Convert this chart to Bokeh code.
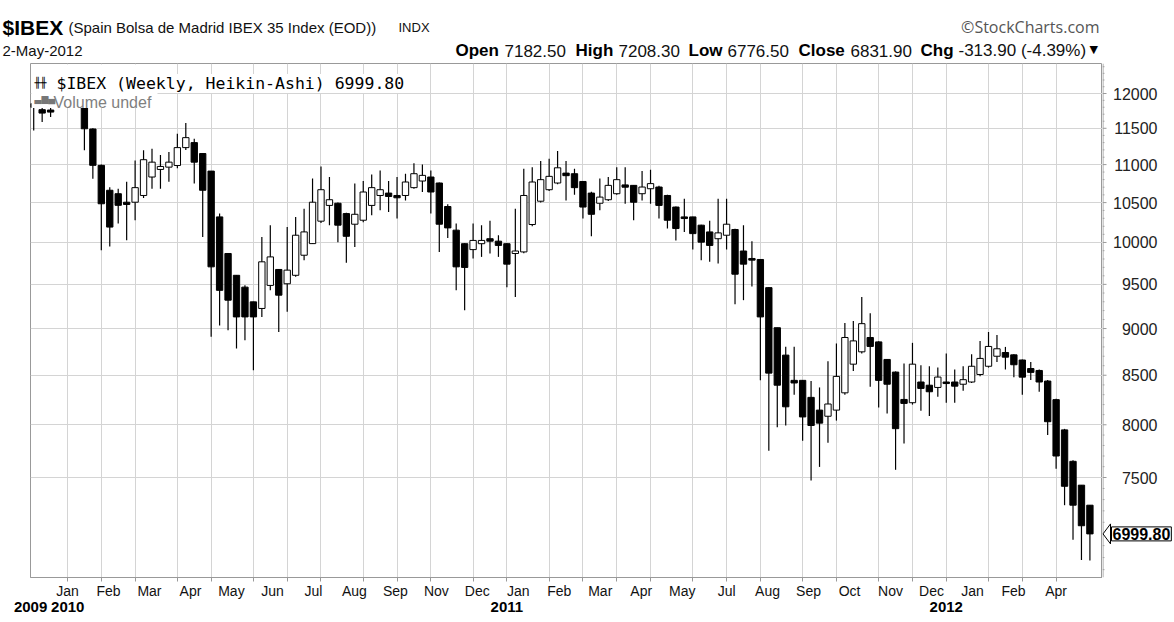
import numpy as np
import pandas as pd
from bokeh.plotting import figure
from bokeh.layouts import column, row
from bokeh.models import Range1d, FixedTicker, Label, BoxAnnotation, ColumnDataSource, LinearAxis
from bokeh.embed import file_html
from bokeh.resources import INLINE

# ---------------- data (weekly Heikin-Ashi candles) ----------------
weeks = pd.date_range("2009-12-07", periods=126, freq="W-MON")

ha_open = [
    11850, 11765, 11760, 11810, 11850, 11975,
    11930, 11490, 10990, 10660, 10615, 10505,
    10505, 10592, 10834, 10935, 10966, 10988,
    11231, 11300, 11150, 10913, 10318, 9866,
    9606, 9468, 9299, 9224, 9488, 9675,
    9507, 9606, 9845, 9986, 10264, 10464,
    10492, 10360, 10226, 10276, 10464, 10592,
    10623, 10592, 10592, 10694, 10781, 10834,
    10755, 10450, 10152, 9985, 9913, 9985,
    10046, 10016, 9985, 9866, 9885, 10222,
    10518, 10667, 10755, 10886, 10878, 10775,
    10623, 10492, 10537, 10615, 10730, 10724,
    10615, 10680, 10702, 10592, 10443, 10318,
    10318, 10214, 10130, 10046, 10089, 10160,
    9896, 9806, 9794, 9462, 9009, 8712,
    8447, 8447, 8273, 8145, 8084, 8145,
    8319, 8616, 8747, 8902, 8854, 8666,
    8533, 8252, 8219, 8430, 8397, 8374,
    8430, 8430, 8407, 8430, 8508, 8594,
    8700, 8740, 8715, 8660, 8570, 8550,
    8440, 8250, 7950, 7650, 7430, 7250,
]
ha_close = [
    11800, 11716, 11730, 11960, 12100, 11900,
    11493, 10990, 10485, 10190, 10465, 10476,
    10694, 11066, 11033, 10975, 11033, 11231,
    11369, 11033, 10660, 9706, 9431, 9318,
    9129, 9129, 9129, 9766, 9825, 9375,
    9667, 10089, 10130, 10505, 10667, 10537,
    10214, 10076, 10351, 10637, 10694, 10667,
    10579, 10562, 10768, 10878, 10856, 10637,
    10226, 10180, 9706, 9699, 10025, 10025,
    10016, 9964, 9738, 9896, 10592, 10768,
    10799, 10843, 10957, 10852, 10694, 10443,
    10351, 10571, 10724, 10799, 10700, 10505,
    10702, 10747, 10464, 10276, 10172, 10297,
    10109, 10004, 9964, 10118, 10226, 9619,
    9738, 9786, 9129, 8522, 8397, 8178,
    8420, 8077, 7993, 8016, 8206, 8488,
    8902, 8865, 9054, 8805, 8447, 8407,
    7962, 8212, 8616, 8364, 8330, 8481,
    8414, 8387, 8454, 8594, 8677, 8805,
    8780, 8690, 8610, 8480, 8530, 8430,
    8030, 7700, 7420, 7250, 7070, 6999.80,
]
ha_high = [
    11950, 11850, 11800, 12050, 12230, 12130,
    11950, 11500, 11000, 10700, 10680, 10770,
    11057, 11195, 11217, 11130, 11170, 11424,
    11573, 11355, 11150, 10913, 10360, 9870,
    9610, 9490, 9300, 10066, 10214, 9680,
    10192, 10318, 10422, 10813, 10975, 10834,
    10500, 10370, 10747, 10781, 10869, 10922,
    10781, 10834, 10878, 11019, 11001, 10922,
    10760, 10480, 10235, 9990, 10235, 10214,
    10268, 10089, 9990, 10422, 10945, 10966,
    11047, 11080, 11184, 11047, 10945, 10780,
    10640, 10813, 10834, 10966, 10966, 10730,
    10913, 10931, 10720, 10600, 10450, 10550,
    10320, 10220, 10268, 10550, 10550, 10170,
    10214, 10016, 9800, 9470, 9010, 8801,
    8801, 8450, 8440, 8374, 8648, 8837,
    9060, 9083, 9355, 9169, 8860, 8670,
    8540, 8623, 8844, 8605, 8594, 8580,
    8730, 8559, 8594, 8722, 8865, 8962,
    8930, 8800, 8720, 8665, 8640, 8560,
    8450, 8260, 7960, 7660, 7430, 7250,
]
ha_low = [
    11470, 11590, 11660, 11800, 11820, 11800,
    11195, 10810, 9905, 9950, 10235, 10026,
    10276, 10560, 10680, 10680, 10770, 10950,
    11200, 10747, 10067, 8910, 9035, 8980,
    8784, 8873, 8551, 9129, 9431, 8962,
    9186, 9590, 9786, 9980, 10240, 10214,
    10004, 9754, 9944, 10250, 10339, 10401,
    10380, 10297, 10528, 10680, 10637, 10360,
    9885, 10054, 9431, 9205, 9806, 9825,
    9866, 9825, 9468, 9355, 9870, 10200,
    10500, 10650, 10740, 10528, 10600, 10297,
    10076, 10401, 10520, 10600, 10485, 10276,
    10528, 10485, 10297, 10172, 10025, 10130,
    9913, 9786, 9766, 9747, 9913, 9273,
    9318, 9476, 8447, 7749, 7977, 7993,
    8300, 7844, 7473, 7598, 7825, 8041,
    8300, 8544, 8730, 8380, 8171, 8111,
    7571, 7819, 8200, 8138, 8087, 8279,
    8219, 8219, 8340, 8420, 8490, 8580,
    8640, 8560, 8480, 8300, 8450, 8330,
    7900, 7580, 7250, 6950, 6780, 6776.50,
]

y_tick_values = [7500, 8000, 8500, 9000, 9500, 10000, 10500, 11000, 11500, 12000]
y_tick_labels = ["7500", "8000", "8500", "9000", "9500", "10000", "10500", "11000", "11500", "12000"]

month_label_keys = ["2010-01", "2010-02", "2010-03", "2010-04", "2010-05", "2010-06", "2010-07",
                    "2010-08", "2010-09", "2010-11", "2010-12", "2011-01", "2011-02", "2011-03",
                    "2011-04", "2011-05", "2011-07", "2011-08", "2011-09", "2011-10", "2011-11",
                    "2011-12", "2012-01", "2012-02", "2012-04"]
month_labels = ["Jan", "Feb", "Mar", "Apr", "May", "Jun", "Jul", "Aug", "Sep", "Nov", "Dec",
                "Jan", "Feb", "Mar", "Apr", "May", "Jul", "Aug", "Sep", "Oct", "Nov", "Dec",
                "Jan", "Feb", "Apr"]
year_labels = ["2009", "2010", "2011", "2012"]

last_value = 6999.80
header_symbol = "$IBEX"
header_desc = "(Spain Bolsa de Madrid IBEX 35 Index (EOD))"
header_exch = "INDX"
header_date = "2-May-2012"
ohlc_names = ["Open", "High", "Low", "Close", "Chg"]
ohlc_values = ["7182.50", "7208.30", "6776.50", "6831.90", "-313.90 (-4.39%)"]
legend_main = "$IBEX (Weekly, Heikin-Ashi) 6999.80"
legend_volume = "Volume undef"
credit = "\u00a9StockCharts.com"

# ---------------- derived ----------------
n = len(weeks)
xs = np.arange(n)
o = np.array(ha_open, dtype=float)
c = np.array(ha_close, dtype=float)
up = c >= o
src = ColumnDataSource(dict(
    x=xs, high=ha_high, low=ha_low,
    top=np.maximum(o, c), bottom=np.minimum(o, c),
    fill=np.where(up, "white", "black"),
))

X0, X1 = -0.38, 126.49
periods = weeks.to_period("M")
grid_x = [k for k in range(1, n) if periods[k] != periods[k - 1]]
first_of_month = {str(periods[k]): k for k in grid_x}


def spaced(anchors, gap):
    out, prev = [], -1e9
    for a in anchors:
        v = round(max(a, prev + gap), 2)
        out.append(v)
        prev = v
    return out


label_pos = spaced([first_of_month[k] for k in month_label_keys], 4.85)
year_pos = spaced([X0 + 0.01] + [first_of_month[f"{y}-01"] for y in year_labels[1:]], 4.4)

TOTAL_W, TOTAL_H = 1172, 620
HEAD_H = 63
FL, FT, FR, FB = 30, 63, 1102, 577     # plot frame on the page
HEAD_SHIFT = 6
Y0, Y1 = 6636, 12449
PX_PER_LN = (FB - FT) / np.log(Y1 / Y0)

# ---------------- header strip ----------------
h = figure(width=TOTAL_W, height=HEAD_H, x_range=Range1d(0, TOTAL_W), y_range=Range1d(HEAD_H, 0),
           x_axis_type=None, y_axis_type=None, toolbar_location=None, output_backend="svg",
           min_border=0)
h.outline_line_color = None
h.background_fill_color = "white"
h.border_fill_color = "white"


def hlab(text, xp, yp, size, font="Liberation Sans", style="normal", color="#111111",
         align="left"):
    h.add_layout(Label(text=text, x=xp, y=yp - HEAD_SHIFT, text_font=font, text_font_size=size,
                       text_font_style=style, text_color=color, text_align=align,
                       text_baseline="alphabetic"))


hlab(header_symbol, 2, 33, "21px", style="bold", color="#000000")
hlab(header_desc, 68, 33, "15px")
hlab(header_exch, 398, 33, "13px")
hlab(credit, 1099, 32, "16px", font="Open Sans", color="#555555", align="right")
hlab(header_date, 2, 56, "15px")
name_x = [455, 575, 688, 798, 920]
val_x = [504, 618, 727, 850, 958]
for t, xp in zip(ohlc_names, name_x):
    hlab(t, xp, 56, "17px", style="bold", color="#000000")
for t, xp in zip(ohlc_values, val_x):
    hlab(t, xp, 56, "17px")
hlab("\u25bc", 1089, 55, "11px", font="DejaVu Sans", color="#000000")

# ---------------- main chart ----------------
MAIN_H = TOTAL_H - HEAD_H
p = figure(width=FR, height=MAIN_H,
           x_range=Range1d(X0, X1), y_range=Range1d(Y0, Y1),
           y_axis_type="log", y_axis_location=None,
           toolbar_location=None, output_backend="svg",
           min_border_left=FL, min_border_right=0, min_border_top=0,
           min_border_bottom=MAIN_H - (FB - FT))
p.outline_line_color = "#999999"
p.background_fill_color = "white"
p.border_fill_color = "white"

GRID = "#d4d4d4"
# month labels axis (minor ticks mark the month gridlines)
p.xaxis.ticker = FixedTicker(ticks=label_pos, minor_ticks=grid_x)
p.xaxis.major_label_overrides = {v: t for v, t in zip(label_pos, month_labels)}
p.xaxis.major_label_text_font = "Liberation Sans"
p.xaxis.major_label_text_font_size = "14px"
p.xaxis.major_label_text_color = "#111111"
p.xaxis.major_label_standoff = 1
p.xaxis.major_tick_out = 4
p.xaxis.major_tick_in = 0
p.xaxis.major_tick_line_color = None
p.xaxis.minor_tick_out = 4
p.xaxis.minor_tick_in = 0
p.xaxis.minor_tick_line_color = "#999999"
p.xaxis.axis_line_color = "#999999"
p.xgrid.ticker = FixedTicker(ticks=grid_x)
p.xgrid.grid_line_color = GRID
p.ygrid.ticker = FixedTicker(ticks=y_tick_values)
p.ygrid.grid_line_color = GRID

# year labels axis
yax = LinearAxis(ticker=FixedTicker(ticks=year_pos),
                 major_label_overrides={v: t for v, t in zip(year_pos, year_labels)})
yax.major_label_text_font = "Liberation Sans"
yax.major_label_text_font_size = "15px"
yax.major_label_text_font_style = "bold"
yax.major_label_text_color = "#000000"
yax.major_label_standoff = 0
yax.major_tick_out = 0
yax.major_tick_in = 0
yax.major_tick_line_color = None
yax.minor_tick_line_color = None
yax.axis_line_color = None
p.add_layout(yax, "below")

# candles
p.segment(x0="x", y0="high", x1="x", y1="low", source=src, line_color="black", line_width=1.2)
p.vbar(x="x", width=0.75, top="top", bottom="bottom", source=src,
       fill_color="fill", line_color="black", line_width=1)

# legend area (white box hides what lies behind it)
p.add_layout(BoxAnnotation(left=-0.26, right=14.65, bottom=11790, top=12433,
                           fill_color="white", fill_alpha=1.0, line_color=None))


def lab(text, xp, yp, size, font="Liberation Sans", style="normal", color="#111111", **kw):
    p.add_layout(Label(text=text, x=xp - FL, y=FB - yp, x_units="screen", y_units="screen",
                       text_font=font, text_font_size=size, text_font_style=style,
                       text_color=color, text_align="left", text_baseline="alphabetic", **kw))


lab("\u256b\u256b", 34, 82, "10px", font="DejaVu Sans Mono", style="bold", color="#000000")
lab(legend_main, 56, 83, "16.5px", font="DejaVu Sans Mono", color="#000000",
    background_fill_color="white", background_fill_alpha=1.0)
lab("\u2583\u2586\u2584", 34, 98, "9px", font="DejaVu Sans", color="#777777")
lab(legend_volume, 53, 102, "16px", color="#808080")

# ---------------- price scale strip (right of the frame) ----------------
SIDE_W = TOTAL_W - FR
side = figure(width=SIDE_W, height=MAIN_H, x_range=Range1d(0, SIDE_W), y_range=p.y_range,
              y_axis_type="log", x_axis_location=None, y_axis_location=None,
              toolbar_location=None, output_backend="svg",
              min_border_left=0, min_border_right=0, min_border_top=0,
              min_border_bottom=MAIN_H - (FB - FT))
side.outline_line_color = None
side.background_fill_color = "white"
side.border_fill_color = "white"
side.xgrid.visible = False
side.ygrid.visible = False

minor_vals = [v for v in range(6700, 12500, 100) if v not in y_tick_values]
side.segment(x0=0, y0=minor_vals, x1=2, y1=minor_vals, line_color="#aaaaaa", line_width=1)
side.segment(x0=0, y0=y_tick_values, x1=4, y1=y_tick_values, line_color="#999999", line_width=1)
side.segment(x0=0.5, y0=Y0, x1=0.5, y1=Y1, line_color="#999999", line_width=1)
for v, s in zip(y_tick_values, y_tick_labels):
    side.add_layout(Label(text=s, x=55, y=v, text_font="Liberation Sans", text_font_size="16px",
                          text_color="#222222", text_align="right", text_baseline="middle"))

# last value tag with its pointer
half = np.exp(10 / PX_PER_LN)
side.patch(x=[0.5, 8, 8], y=[last_value, last_value * half, last_value / half],
           fill_color="white", line_color="black", line_width=1)
side.add_layout(Label(text=f"{last_value:.2f}", x=9, y=last_value, text_font="Liberation Sans",
                      text_font_size="16px", text_font_style="bold", text_color="#000000",
                      text_align="left", text_baseline="middle", border_line_color="black",
                      border_line_width=1, background_fill_color="white",
                      background_fill_alpha=1.0, padding=1))

layout = column(h, row(p, side, spacing=0), spacing=0)
open("out.html", "w").write(file_html(layout, INLINE, title="IBEX weekly Heikin-Ashi"))
